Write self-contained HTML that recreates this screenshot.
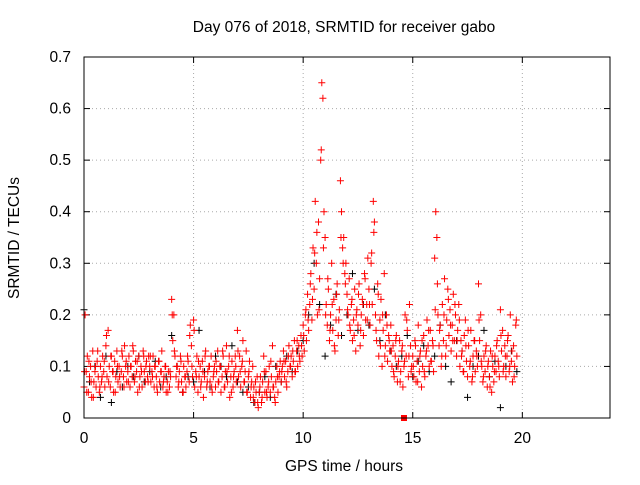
<!DOCTYPE html>
<html><head><meta charset="utf-8"><style>
body{margin:0;background:#fff;}
svg{font-family:"Liberation Sans",sans-serif;font-size:15.5px;}
</style></head><body>
<svg id="c" width="640" height="480" xmlns="http://www.w3.org/2000/svg">
<rect width="640" height="480" fill="#fff"/>
<text x="344" y="32" text-anchor="middle">Day 076 of 2018, SRMTID for receiver gabo</text>
<text x="344" y="471" text-anchor="middle">GPS time / hours</text>
<text transform="translate(19,238) rotate(-90)" text-anchor="middle">SRMTID / TECUs</text>
<g id="grid"></g><g id="marks"></g>
<rect x="84" y="57" width="526" height="361" fill="none" stroke="#000"/>
</svg>
<script>
const xTicks=[0,5,10,15,20];
const yTicks=[0,0.1,0.2,0.3,0.4,0.5,0.6,0.7];
const redStart=0, redStep=0.05;
const redValues=[0.06,0.2,0.09,0.12,0.05,0.08,0.1,0.04,0.13,0.07,0.09,0.06,0.11,0.08,0.05,0.1,0.07,0.12,0.09,0.06,
0.14,0.08,0.17,0.1,0.06,0.12,0.09,0.05,0.11,0.08,0.13,0.07,0.1,0.06,0.09,0.12,0.08,0.14,0.1,0.07,
0.09,0.12,0.06,0.1,0.08,0.13,0.07,0.11,0.09,0.05,0.12,0.08,0.1,0.06,0.13,0.09,0.07,0.11,0.08,0.12,
0.1,0.07,0.09,0.12,0.06,0.1,0.08,0.05,0.11,0.07,0.09,0.13,0.06,0.08,0.1,0.05,0.07,0.09,0.06,0.08,
0.23,0.15,0.2,0.12,0.08,0.1,0.06,0.09,0.12,0.07,0.05,0.1,0.08,0.06,0.09,0.11,0.07,0.18,0.14,0.08,
0.19,0.06,0.09,0.12,0.05,0.08,0.1,0.07,0.11,0.04,0.08,0.13,0.06,0.09,0.1,0.07,0.12,0.05,0.08,0.1,
0.06,0.09,0.13,0.07,0.1,0.05,0.08,0.12,0.06,0.09,0.14,0.07,0.1,0.04,0.08,0.11,0.06,0.09,0.12,0.07,
0.17,0.08,0.12,0.06,0.1,0.15,0.07,0.09,0.13,0.05,0.08,0.11,0.04,0.07,0.1,0.06,0.03,0.05,0.08,0.02,
0.05,0.08,0.03,0.07,0.12,0.05,0.09,0.04,0.06,0.1,0.05,0.08,0.14,0.06,0.04,0.07,0.1,0.05,0.08,0.11,
0.07,0.1,0.13,0.08,0.11,0.06,0.09,0.14,0.1,0.12,0.08,0.11,0.15,0.09,0.13,0.1,0.14,0.11,0.16,0.12,
0.18,0.13,0.2,0.15,0.24,0.17,0.22,0.28,0.19,0.33,0.25,0.42,0.3,0.2,0.38,0.27,0.5,0.65,0.62,0.4,
0.35,0.22,0.18,0.25,0.15,0.2,0.3,0.17,0.23,0.13,0.19,0.26,0.16,0.21,0.46,0.4,0.33,0.35,0.28,0.3,
0.24,0.2,0.27,0.17,0.22,0.15,0.19,0.25,0.13,0.21,0.18,0.26,0.14,0.2,0.23,0.16,0.28,0.19,0.22,0.31,
0.25,0.18,0.3,0.22,0.42,0.38,0.2,0.15,0.26,0.12,0.19,0.23,0.1,0.17,0.28,0.14,0.2,0.11,0.16,0.13,
0.18,0.1,0.14,0.08,0.12,0.16,0.07,0.11,0.15,0.09,0.13,0.06,0.1,0.2,0.12,0.17,0.08,0.22,0.14,0.1,
0.12,0.08,0.15,0.07,0.11,0.18,0.09,0.13,0.06,0.1,0.16,0.08,0.12,0.19,0.14,0.1,0.17,0.11,0.15,0.09,
0.31,0.4,0.35,0.2,0.14,0.18,0.1,0.22,0.15,0.27,0.12,0.19,0.25,0.16,0.21,0.13,0.18,0.24,0.15,0.2,
0.12,0.17,0.22,0.1,0.15,0.13,0.09,0.16,0.19,0.11,0.08,0.14,0.1,0.17,0.07,0.12,0.15,0.09,0.13,0.1,
0.26,0.15,0.2,0.1,0.07,0.12,0.09,0.14,0.06,0.11,0.08,0.13,0.05,0.1,0.07,0.12,0.09,0.15,0.11,0.08,
0.21,0.13,0.17,0.1,0.14,0.08,0.12,0.16,0.09,0.2,0.11,0.07,0.14,0.1,0.18,0.12];
const red2Start=0.025, red2Step=0.1;
const red2Values=[0.09,0.05,0.11,0.07,0.04,0.1,0.13,0.06,0.08,0.11,
0.16,0.07,0.12,0.09,0.05,0.1,0.08,0.13,0.06,0.11,
0.07,0.1,0.14,0.08,0.11,0.06,0.09,0.12,0.1,0.07,
0.12,0.08,0.1,0.06,0.11,0.09,0.07,0.1,0.05,0.09,
0.2,0.13,0.1,0.07,0.11,0.05,0.08,0.12,0.16,0.1,
0.17,0.08,0.11,0.06,0.09,0.12,0.07,0.1,0.06,0.09,
0.11,0.07,0.1,0.13,0.06,0.09,0.12,0.05,0.08,0.1,
0.13,0.09,0.11,0.07,0.05,0.09,0.06,0.04,0.07,0.03,
0.06,0.04,0.09,0.05,0.07,0.11,0.06,0.03,0.08,0.09,
0.09,0.11,0.07,0.12,0.1,0.13,0.09,0.15,0.12,0.14,
0.16,0.21,0.19,0.26,0.23,0.32,0.36,0.21,0.52,0.33,
0.2,0.27,0.17,0.22,0.14,0.24,0.19,0.35,0.3,0.26,
0.21,0.18,0.23,0.16,0.2,0.24,0.17,0.22,0.27,0.19,
0.22,0.32,0.36,0.17,0.24,0.14,0.2,0.12,0.18,0.15,
0.13,0.09,0.15,0.1,0.07,0.14,0.11,0.19,0.12,0.09,
0.1,0.14,0.07,0.12,0.15,0.09,0.13,0.17,0.11,0.14,
0.21,0.26,0.17,0.12,0.2,0.14,0.23,0.18,0.15,0.22,
0.15,0.19,0.12,0.09,0.14,0.17,0.11,0.08,0.15,0.12,
0.19,0.11,0.08,0.13,0.1,0.06,0.12,0.09,0.14,0.1,
0.16,0.09,0.12,0.15,0.1,0.13,0.08,0.19];
const blackStart=0, blackStep=0.25;
const blackValues=[0.21,0.07,0.1,0.04,0.12,0.03,0.09,0.06,0.1,0.08,0.12,0.07,0.09,0.11,0.06,0.08,0.16,0.1,0.05,0.08,0.07,0.17,0.09,0.06,0.12,0.1,0.08,0.14,0.07,0.05,0.06,0.03,0.05,0.08,0.04,0.1,0.07,0.12,0.09,0.13,0.15,0.2,0.3,0.22,0.12,0.18,0.24,0.16,0.2,0.28,0.17,0.22,0.18,0.25,0.15,0.2,0.13,0.1,0.12,0.16,0.08,0.11,0.14,0.09,0.12,0.18,0.1,0.07,0.15,0.13,0.04,0.1,0.12,0.17,0.08,0.11,0.02,0.1,0.13,0.09];
const markerTime=[14.6], markerValue=[0];

const NS="http://www.w3.org/2000/svg";
const X=v=>84+v*(526/24), Y=v=>418-v*(361/0.7);
function mk(t,a,p){const e=document.createElementNS(NS,t);for(const k in a)e.setAttribute(k,a[k]);p.appendChild(e);return e;}
const grid=document.getElementById('grid'), marks=document.getElementById('marks');
xTicks.forEach(t=>{
  const l=mk('line',{x1:X(t),x2:X(t),y1:57,y2:418,stroke:'#aaa','stroke-dasharray':'1,3'},grid);
  
  
  mk('line',{x1:X(t),x2:X(t),y1:418,y2:412,stroke:'#000'},grid);
  mk('line',{x1:X(t),x2:X(t),y1:57,y2:63,stroke:'#000'},grid);
  const tx=mk('text',{x:X(t),y:443,'text-anchor':'middle'},grid);tx.textContent=t;
  
  
});
yTicks.forEach(t=>{
  const l=mk('line',{x1:84,x2:610,y1:Y(t),y2:Y(t),stroke:'#aaa','stroke-dasharray':'1,3'},grid);
  
  
  mk('line',{x1:84,x2:90,y1:Y(t),y2:Y(t),stroke:'#000'},grid);
  mk('line',{x1:604,x2:610,y1:Y(t),y2:Y(t),stroke:'#000'},grid);
  const tx=mk('text',{x:71,y:Y(t)+5,'text-anchor':'end'},grid);tx.textContent=t;
  
  
});
function plus(t,v,col,name){
  const x=X(t),y=Y(v);
  const p=mk('path',{d:`M${x-3.5},${y}h7M${x},${y-3.5}v7`,stroke:col,'stroke-width':1},marks);
  
  
}
blackValues.forEach((v,i)=>plus(blackStart+i*blackStep,v,'#000','black-point'));
redValues.forEach((v,i)=>plus(redStart+i*redStep,v,'#f00','red-point'));
red2Values.forEach((v,i)=>plus(red2Start+i*red2Step,v,'#f00','red-point'));
markerTime.forEach((t,i)=>{
  const r=mk('rect',{x:X(t)-3,y:Y(markerValue[i])-3,width:6,height:6,fill:'#f00'},marks);
  
  
});
</script>
</body></html>
